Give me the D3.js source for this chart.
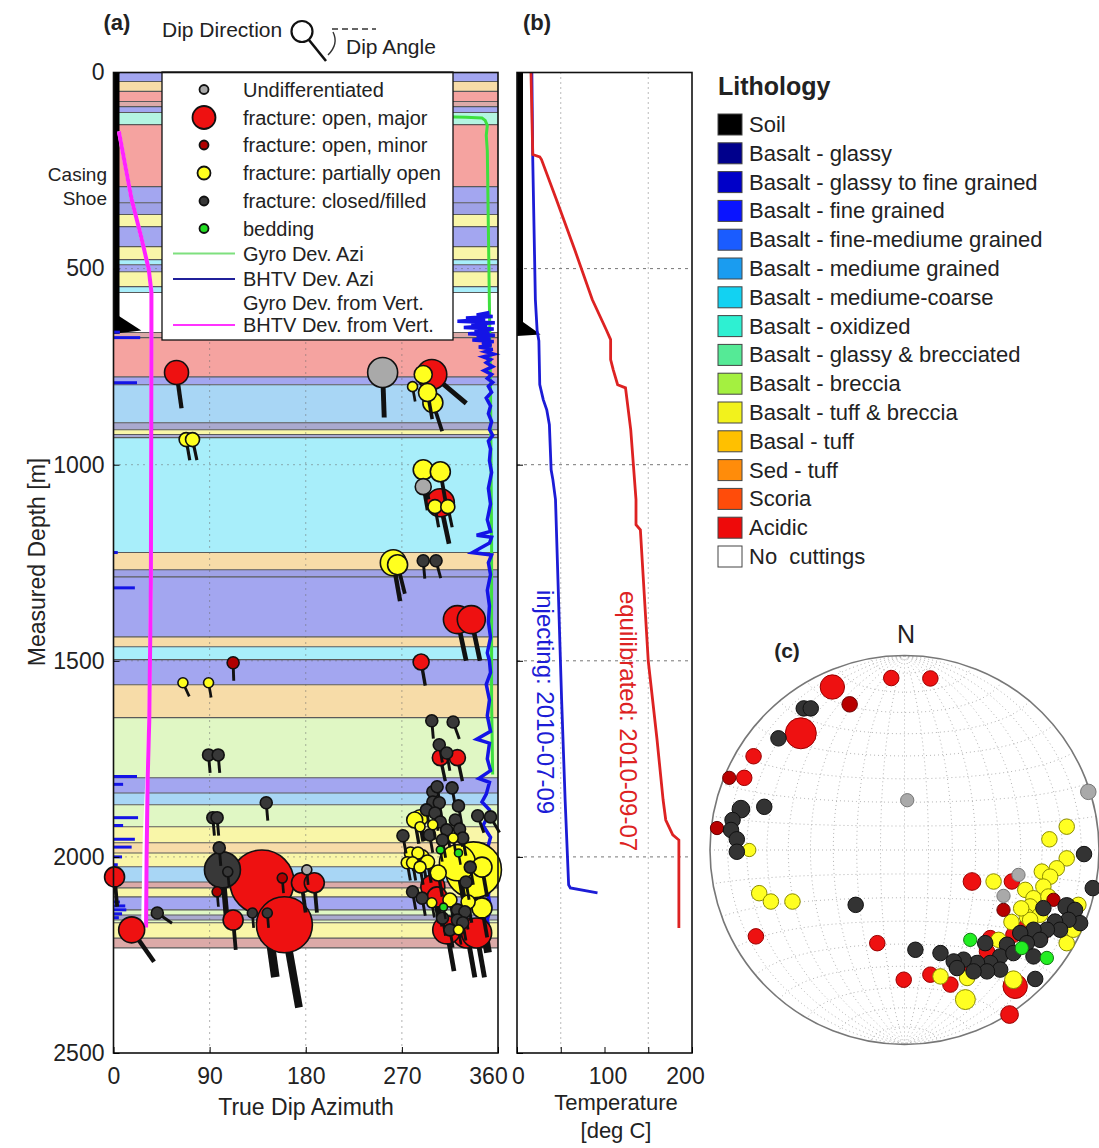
<!DOCTYPE html>
<html>
<head>
<meta charset="utf-8">
<script src="https://cdn.jsdelivr.net/npm/d3@7"></script>
<style>
  body { margin: 0; background: #fff; }
  text { font-family: "Liberation Sans", Arial, sans-serif; fill: #222; }
</style>
</head>
<body>
<div id="chart"></div>
<script>
// ---------------- data ----------------
var lithNames = ["Soil", "Basalt - glassy", "Basalt - glassy to fine grained", "Basalt - fine grained",
  "Basalt - fine-mediume grained", "Basalt - mediume grained", "Basalt - mediume-coarse", "Basalt - oxidized",
  "Basalt - glassy & brecciated", "Basalt - breccia", "Basalt - tuff & breccia", "Basal - tuff",
  "Sed - tuff", "Scoria", "Acidic", "No  cuttings"];
var lithColors = ["#000000", "#00008c", "#0000c8", "#0a14ff", "#1a5cff", "#1a9cf0", "#12d2f2", "#2ef0d2",
  "#55ea96", "#a4f040", "#f2f21c", "#ffc000", "#ff8c0a", "#ff4c0a", "#ee0a0a", "#ffffff"];
var lithPale = ["#000000", "#a9a9cf", "#9fa2e6", "#a3a6f0", "#a7bdf5", "#a8d6f5", "#a8eefa", "#b4f5e2",
  "#c0f2d0", "#e0f7c4", "#f9f6a8", "#f7dca8", "#f8cfa8", "#dcaaa8", "#f5a3a0", "#ffffff"];

// lithology intervals (depth in m)
var bandTops = [0, 23, 48, 74, 87, 102, 133, 291, 332, 362, 393, 444, 477, 490, 508, 546, 561, 663, 676, 776,
  796, 893, 911, 923, 931, 1224, 1268, 1286, 1439, 1464, 1497, 1561, 1645, 1798, 1837, 1867, 1923, 1964, 1990, 2025,
  2064, 2079, 2102, 2135, 2148, 2161, 2168, 2207];
var bandBases = [23, 48, 74, 87, 102, 133, 291, 332, 362, 393, 444, 477, 490, 508, 546, 561, 663, 676, 776, 796,
  893, 911, 923, 931, 1224, 1268, 1286, 1439, 1464, 1497, 1561, 1645, 1798, 1837, 1867, 1923, 1964, 1990, 2025, 2064,
  2079, 2102, 2135, 2148, 2161, 2168, 2207, 2232];
var bandLith = [3, 11, 14, 13, 3, 7, 14, 3, 2, 10, 3, 10, 6, 3, 10, 6, 15, 13, 14, 3,
  5, 1, 10, 1, 6, 11, 2, 3, 11, 6, 3, 11, 9, 3, 5, 9, 10, 11, 10, 5,
  13, 10, 3, 9, 1, 9, 10, 13];

var depthTicks = [0, 500, 1000, 1500, 2000, 2500];
var aziTicks = [0, 90, 180, 270, 360];
var tempTicks = [0, 50, 100, 150, 200];
var tempLabels = {0: "0", 100: "100", 200: "200"};

// fractures: [depth m, true dip azimuth deg, dip angle deg, aperture]
var fracOpenMajor = [[765, 59, 82, 12], [770, 298, 40, 15], [1097, 306, 78, 14], [1395, 322, 78, 14],
  [1395, 335, 78, 14], [1503, 288, 80, 8], [1747, 306, 78, 8], [1747, 322, 78, 8], [2076, 299, 80, 12],
  [2102, 303, 80, 10], [2194, 331, 80, 15], [2186, 312, 80, 14], [2194, 340, 80, 15], [2064, 139, 82, 32],
  [2173, 160, 80, 28], [2066, 176, 82, 10], [2066, 188, 85, 10], [2161, 112, 85, 10], [2051, 1, 85, 10],
  [2186, 17, 55, 13]];
var fracOpenMinor = [[1505, 112, 88, 6], [2054, 158, 85, 5], [2089, 97, 85, 5]];
var fracUndiff = [[765, 252, 88, 15], [1056, 290, 80, 8], [2033, 181, 85, 5]];
var fracPartial = [[770, 290, 80, 9], [801, 280, 80, 5], [816, 294, 80, 9], [842, 299, 72, 10],
  [936, 68, 80, 7], [936, 74, 78, 7], [1013, 290, 80, 10], [1018, 306, 80, 10], [1107, 301, 80, 7],
  [1107, 313, 78, 7], [1250, 262, 80, 13], [1255, 266, 76, 10], [1556, 65, 65, 5], [1556, 89, 80, 5],
  [1900, 287, 80, 8], [1906, 282, 80, 8], [1923, 287, 80, 5], [1918, 299, 80, 5], [1952, 318, 80, 5],
  [1990, 278, 80, 6], [1990, 285, 80, 6], [2015, 275, 80, 6], [2015, 280, 80, 6], [2000, 289, 80, 7],
  [2013, 294, 80, 7], [2026, 287, 80, 6], [2033, 337, 80, 28], [2015, 322, 80, 18], [2041, 304, 80, 8],
  [2026, 345, 80, 10], [2117, 298, 80, 5], [2130, 345, 80, 10], [2110, 315, 80, 7], [2115, 332, 80, 7],
  [2186, 323, 80, 5]];
var fracClosed = [[1245, 290, 85, 6], [1245, 302, 75, 6], [1653, 298, 85, 6], [1656, 318, 70, 6],
  [1740, 89, 85, 6], [1740, 98, 85, 6], [1714, 305, 80, 6], [1735, 312, 80, 6], [1862, 143, 85, 6],
  [1900, 93, 85, 6], [1900, 97, 85, 6], [1834, 299, 80, 6], [1821, 303, 80, 6], [1824, 317, 80, 6],
  [1860, 299, 80, 6], [1862, 305, 80, 6], [1870, 323, 80, 6], [1880, 293, 80, 6], [1888, 301, 80, 6],
  [1895, 341, 70, 6], [1898, 353, 60, 6], [1911, 306, 80, 6], [1906, 320, 80, 6], [1931, 312, 80, 6],
  [1929, 324, 80, 6], [1946, 271, 80, 6], [1944, 296, 80, 6], [1952, 327, 80, 6], [1957, 308, 80, 6],
  [2026, 334, 80, 6], [2064, 330, 80, 6], [2089, 280, 80, 6], [2105, 289, 80, 6], [2135, 322, 80, 6],
  [2140, 329, 80, 6], [2156, 308, 80, 6], [2186, 315, 80, 6], [2161, 322, 80, 6], [2168, 327, 80, 6],
  [1977, 99, 85, 6], [2033, 102, 85, 18], [2038, 107, 85, 5], [2143, 130, 85, 5], [2143, 144, 85, 5],
  [2143, 41, 35, 6]];
var fracBedding = [[1982, 306, 80, 4], [1990, 323, 80, 4], [2128, 309, 80, 4]];

// borehole deviation logs: [depth m, value deg]
var gyroAzi = [[112, 300], [114, 330], [116, 345], [122, 348], [135, 350], [160, 349], [200, 350], [400, 351],
  [600, 352], [800, 353], [1200, 354], [1600, 354], [1790, 355]];
var bhtvAzi = [[612, 352], [618, 340], [622, 355], [626, 330], [630, 348], [634, 322], [638, 357], [642, 335],
  [646, 350], [650, 328], [654, 356], [658, 338], [662, 352], [666, 332], [670, 357], [674, 340], [678, 353],
  [682, 336], [686, 356], [690, 345], [695, 354], [700, 342], [706, 355], [712, 348], [718, 356], [725, 346],
  [732, 353], [740, 349], [750, 355], [760, 347], [770, 354], [780, 350], [790, 355], [800, 351], [815, 354],
  [830, 349], [850, 353], [870, 351], [890, 354], [910, 352], [925, 355], [940, 351], [960, 353], [990, 352],
  [1020, 354], [1060, 351], [1100, 353], [1140, 350], [1170, 353], [1180, 340], [1185, 354], [1200, 352],
  [1224, 336], [1230, 354], [1250, 351], [1280, 353], [1320, 350], [1360, 352], [1400, 351], [1440, 353],
  [1480, 350], [1500, 352], [1530, 353], [1560, 349], [1600, 352], [1640, 350], [1680, 353], [1700, 340],
  [1710, 352], [1750, 350], [1780, 353], [1800, 342], [1810, 352], [1840, 349], [1860, 345], [1880, 352],
  [1900, 350], [1920, 346], [1950, 353], [1980, 350], [2010, 352], [2040, 349], [2070, 352], [2100, 351],
  [2130, 353], [2160, 350], [2190, 352], [2210, 351]];
var bhtvAziWrap = [[662, 6], [676, 25], [791, 22], [1224, 4], [1314, 20], [1795, 22], [1815, 9], [1900, 23],
  [1920, 9], [1955, 20], [1975, 17], [2000, 8], [2020, 4], [2115, 6], [2125, 11], [2135, 12], [2145, 8], [2155, 5]];
var bhtvVert = [[150, 5], [324, 17], [420, 26], [502, 33], [560, 35.5], [700, 35.5], [1300, 35], [1650, 33.5],
  [1800, 32], [2000, 31], [2180, 30.5]];
var gyroVert = [[150, 5], [324, 17], [420, 26], [502, 33], [560, 35.5], [700, 35.5], [1300, 35], [1650, 33.5],
  [1800, 31.5], [1950, 29], [2180, 27.5]];

// casing / soil marker: [depth m, value]
var soilWedgeA = [[612, 0], [666, 0], [658, 26]];
var soilWedgeB = [[625, 0], [672, 0], [668, 27]];
var soilBase = 666;

// temperature logs: [depth m, deg C]
var tempInjecting = [[0, 17], [222, 18], [579, 21], [658, 23], [684, 25], [796, 26], [834, 30], [860, 34],
  [898, 37], [1013, 39], [1038, 41], [1089, 44], [1600, 51], [1855, 55], [2071, 59], [2079, 61], [2092, 92]];
var tempEquilibrated = [[0, 16], [209, 18], [215, 26], [222, 28], [324, 45], [452, 66], [579, 86], [656, 102],
  [681, 107], [732, 107], [758, 110], [796, 115], [804, 124], [911, 130], [1089, 136], [1153, 136], [1166, 141],
  [1500, 150], [1700, 160], [1855, 167], [1906, 170], [1944, 178], [1957, 185], [2181, 185]];

// stereonet poles (equal-area, lower hemisphere): [east, north, aperture]
var poleOpenMajor = [[-0.068, 0.884, 7], [0.133, 0.882, 7], [-0.371, 0.838, 11], [-0.533, 0.600, 14],
  [-0.776, 0.482, 7], [-0.824, 0.371, 7], [0.347, -0.162, 8], [0.552, -0.162, 7], [0.441, -0.453, 7],
  [0.560, -0.436, 7], [0.424, -0.522, 7], [-0.140, -0.479, 7], [-0.764, -0.444, 7], [-0.004, -0.667, 7],
  [0.133, -0.641, 7], [0.236, -0.692, 7], [0.569, -0.701, 11], [0.540, -0.846, 8], [0.30, -0.60, 7],
  [0.62, -0.40, 7], [0.70, -0.44, 7]];
var poleOpenMinor = [[-0.282, 0.749, 7], [-0.901, 0.371, 6], [-0.964, 0.113, 6], [0.766, -0.256, 6],
  [0.509, -0.308, 6]];
var poleUndiff = [[0.014, 0.256, 6], [0.945, 0.299, 7], [0.586, -0.128, 6], [0.509, -0.236, 6]];
var polePartial = [[-0.798, 0.0, 6], [0.834, 0.120, 7], [0.745, 0.055, 7], [0.834, -0.043, 7], [0.783, -0.094, 7],
  [0.706, -0.111, 7], [0.749, -0.137, 7], [0.458, -0.162, 7], [0.621, -0.205, 7], [0.714, -0.188, 7],
  [0.663, -0.248, 7], [0.740, -0.239, 7], [0.646, -0.290, 7], [0.629, -0.342, 7], [0.697, -0.333, 7],
  [0.894, -0.282, 7], [0.834, -0.479, 7], [0.646, -0.359, 7], [0.484, -0.462, 7], [-0.747, -0.222, 7],
  [-0.687, -0.265, 7], [-0.576, -0.265, 7], [0.185, -0.650, 7], [0.322, -0.658, 7], [0.313, -0.769, 9],
  [0.560, -0.667, 8], [0.868, -0.410, 7], [0.60, -0.30, 7], [0.55, -0.37, 7]];
var poleClosed = [[-0.518, 0.728, 7], [-0.482, 0.728, 7], [-0.648, 0.574, 7], [-0.841, 0.210, 8],
  [-0.721, 0.222, 7], [-0.884, 0.154, 7], [-0.892, 0.103, 7], [-0.862, 0.055, 7], [-0.862, -0.009, 7],
  [0.923, -0.021, 7], [0.968, -0.196, 7], [0.834, -0.290, 8], [0.877, -0.308, 7], [0.903, -0.376, 7],
  [0.843, -0.359, 7], [0.774, -0.368, 7], [0.800, -0.410, 7], [0.732, -0.410, 7], [0.663, -0.410, 7],
  [0.595, -0.427, 7], [0.697, -0.462, 7], [0.629, -0.479, 7], [0.415, -0.479, 7], [0.527, -0.487, 7],
  [0.492, -0.547, 7], [0.560, -0.530, 7], [0.441, -0.581, 7], [0.373, -0.581, 7], [0.304, -0.564, 7],
  [0.253, -0.573, 7], [0.185, -0.530, 7], [0.056, -0.513, 7], [-0.251, -0.282, 7], [0.672, -0.663, 7],
  [0.492, -0.615, 7], [0.424, -0.624, 7], [0.355, -0.624, 7], [0.270, -0.607, 7], [0.663, -0.547, 7],
  [0.714, -0.299, 7]];
var poleBedding = [[0.338, -0.462, 6], [0.603, -0.504, 6], [0.732, -0.555, 6]];

// ---------------- styles per fracture class ----------------
var fracStyles = {
  undiff:   {fill: "#a9a9a9", pole: "#a9a9a9", poleStroke: "#777"},
  major:    {fill: "#ee1111", pole: "#ee1111", poleStroke: "#990000"},
  minor:    {fill: "#b00000", pole: "#b80000", poleStroke: "#660000"},
  partial:  {fill: "#ffff1e", pole: "#ffff22", poleStroke: "#8a8a00"},
  closed:   {fill: "#383838", pole: "#333333", poleStroke: "#111"},
  bedding:  {fill: "#22dd22", pole: "#22ee22", poleStroke: "#117711"}
};

// ---------------- svg & scales ----------------
var svg = d3.select("#chart").append("svg")
    .attr("width", 1099)
    .attr("height", 1148);

var yD = d3.scaleLinear().domain([0, 2500]).range([72.5, 1053]);
var xA = d3.scaleLinear().domain([0, 360]).range([113.5, 498]);
var xT = d3.scaleLinear().domain([0, 200]).range([517, 692]);
var rScale = d3.scaleLinear().domain([0, 32]).range([0, 32]);
var poleScale = d3.scaleLinear().domain([0, 14]).range([0, 15.5]);

// ================= panel (a) =================
var pa = svg.append("g");

// lithology bands
var bands = d3.range(bandTops.length);
pa.selectAll("rect.band")
  .data(bands)
  .enter().append("rect")
    .attr("class", "band")
    .attr("x", xA(0))
    .attr("width", xA(360) - xA(0))
    .attr("y", function(i) { return yD(bandTops[i]); })
    .attr("height", function(i) { return yD(bandBases[i]) - yD(bandTops[i]); })
    .attr("fill", function(i) { return lithPale[bandLith[i]]; });

pa.selectAll("line.bandEdge")
  .data(bandBases)
  .enter().append("line")
    .attr("x1", xA(0)).attr("x2", xA(360))
    .attr("y1", function(d) { return yD(d); })
    .attr("y2", function(d) { return yD(d); })
    .attr("stroke", "#5a5a5a")
    .attr("stroke-width", 1.1);

// gridlines
pa.selectAll("line.vgrid")
  .data([90, 180, 270])
  .enter().append("line")
    .attr("x1", function(d) { return xA(d); })
    .attr("x2", function(d) { return xA(d); })
    .attr("y1", yD(0)).attr("y2", yD(2500))
    .attr("stroke", "#666")
    .attr("stroke-width", 1)
    .attr("stroke-dasharray", "1,5");
pa.selectAll("line.hgrid")
  .data([500, 1000, 1500, 2000])
  .enter().append("line")
    .attr("x1", xA(0)).attr("x2", xA(360))
    .attr("y1", function(d) { return yD(d); })
    .attr("y2", function(d) { return yD(d); })
    .attr("stroke", "#666")
    .attr("stroke-width", 1)
    .attr("stroke-dasharray", "1,5");

// soil / casing marker
pa.append("rect")
    .attr("x", xA(0)).attr("y", yD(0))
    .attr("width", 6).attr("height", yD(soilBase) - yD(0))
    .attr("fill", "#000");
pa.append("path")
    .datum(soilWedgeA)
    .attr("d", d3.line().x(function(d) { return xA(d[1]); }).y(function(d) { return yD(d[0]); }))
    .attr("fill", "#000");

// deviation logs
var devLine = d3.line()
    .x(function(d) { return xA(d[1]); })
    .y(function(d) { return yD(d[0]); });

pa.append("path").datum(gyroVert)
    .attr("d", devLine).attr("fill", "none")
    .attr("stroke", "#ffffff").attr("stroke-width", 3.5);
pa.append("path").datum(bhtvVert)
    .attr("d", devLine).attr("fill", "none")
    .attr("stroke", "#ff22ff").attr("stroke-width", 4);
pa.append("path").datum(gyroAzi)
    .attr("d", devLine).attr("fill", "none")
    .attr("stroke", "#3ee03e").attr("stroke-width", 3);
pa.append("path").datum(bhtvAzi)
    .attr("d", devLine).attr("fill", "none")
    .attr("stroke", "#1414e6").attr("stroke-width", 3.5);
pa.selectAll("line.wrap")
  .data(bhtvAziWrap)
  .enter().append("line")
    .attr("x1", xA(0))
    .attr("x2", function(d) { return xA(d[1]); })
    .attr("y1", function(d) { return yD(d[0]); })
    .attr("y2", function(d) { return yD(d[0]); })
    .attr("stroke", "#1414e6")
    .attr("stroke-width", 3);

// legend box (a)
var lg = pa.append("g");
lg.append("rect")
    .attr("x", 162).attr("y", 72)
    .attr("width", 291).attr("height", 268)
    .attr("fill", "#fff")
    .attr("stroke", "#111").attr("stroke-width", 1.3);

var legendMarkers = [
  {label: "Undifferentiated", cls: "undiff", r: 4.5},
  {label: "fracture: open, major", cls: "major", r: 11.5},
  {label: "fracture: open, minor", cls: "minor", r: 4.5},
  {label: "fracture: partially open", cls: "partial", r: 6.5},
  {label: "fracture: closed/filled", cls: "closed", r: 4.5},
  {label: "bedding", cls: "bedding", r: 4.5}
];
var legendLines = [
  {label: "Gyro Dev. Azi", color: "#7ee07e"},
  {label: "BHTV Dev. Azi", color: "#20209a"},
  {label: "Gyro Dev. from Vert.", color: "#ffffff"},
  {label: "BHTV Dev. from Vert.", color: "#ff33ff"}
];
var rowY = [89.5, 117.5, 145, 173, 201, 228.5, 253.5, 279, 303, 325];

legendMarkers.forEach(function(m, i) {
  lg.append("circle")
      .attr("cx", 204).attr("cy", rowY[i]).attr("r", m.r)
      .attr("fill", fracStyles[m.cls].fill)
      .attr("stroke", "#111").attr("stroke-width", 1.8);
  lg.append("text")
      .attr("x", 243).attr("y", rowY[i] + 7)
      .style("font-size", "20px")
      .text(m.label);
});
legendLines.forEach(function(m, i) {
  var y = rowY[6 + i];
  lg.append("line")
      .attr("x1", 173).attr("x2", 235)
      .attr("y1", y).attr("y2", y)
      .attr("stroke", m.color).attr("stroke-width", 2);
  lg.append("text")
      .attr("x", 243).attr("y", y + 7)
      .style("font-size", "20px")
      .text(m.label);
});

// fractures (tadpoles): biggest first so small ones stay on top
var fracAll = [];
[["major", fracOpenMajor], ["minor", fracOpenMinor], ["undiff", fracUndiff], ["partial", fracPartial],
 ["closed", fracClosed], ["bedding", fracBedding]].forEach(function(s) {
  s[1].forEach(function(d) { fracAll.push({cls: s[0], depth: d[0], azi: d[1], dip: d[2], ap: d[3]}); });
});
fracAll.sort(function(a, b) { return b.ap - a.ap; });

var tad = pa.append("g").selectAll("g")
  .data(fracAll)
  .enter().append("g");
tad.append("line")
    .attr("x1", function(d) { return xA(d.azi); })
    .attr("y1", function(d) { return yD(d.depth); })
    .attr("x2", function(d) { return xA(d.azi) + 3 * rScale(d.ap) * Math.cos(d.dip * Math.PI / 180); })
    .attr("y2", function(d) { return yD(d.depth) + 3 * rScale(d.ap) * Math.sin(d.dip * Math.PI / 180); })
    .attr("stroke", "#111")
    .attr("stroke-width", function(d) { return 1.6 + 0.22 * rScale(d.ap); });
tad.append("circle")
    .attr("cx", function(d) { return xA(d.azi); })
    .attr("cy", function(d) { return yD(d.depth); })
    .attr("r", function(d) { return rScale(d.ap); })
    .attr("fill", function(d) { return fracStyles[d.cls].fill; })
    .attr("stroke", "#111")
    .attr("stroke-width", 1.6);

// frame + axes (a)
pa.append("rect")
    .attr("x", xA(0)).attr("y", yD(0))
    .attr("width", xA(360) - xA(0)).attr("height", yD(2500) - yD(0))
    .attr("fill", "none").attr("stroke", "#111").attr("stroke-width", 1.6);

var yAxisA = pa.append("g")
    .attr("transform", "translate(" + xA(0) + ",0)")
    .call(d3.axisLeft(yD).tickValues(depthTicks).tickFormat(d3.format("d"))
      .tickSizeInner(-6).tickSizeOuter(0).tickPadding(9));
yAxisA.select(".domain").remove();
yAxisA.selectAll("text").style("font-size", "23px").style("font-family", "Liberation Sans, Arial");

var xAxisA = pa.append("g")
    .attr("transform", "translate(0," + yD(2500) + ")")
    .call(d3.axisBottom(xA).tickValues(aziTicks).tickSizeInner(-6).tickSizeOuter(0).tickPadding(15));
xAxisA.select(".domain").remove();
xAxisA.selectAll("text").style("font-size", "23px").style("font-family", "Liberation Sans, Arial")
    .attr("dx", function(d) { return d === 360 ? -10 : 0; });

pa.append("text")
    .attr("transform", "translate(45,562) rotate(-90)")
    .attr("text-anchor", "middle")
    .style("font-size", "23px")
    .text("Measured Depth [m]");
pa.append("text")
    .attr("x", 306).attr("y", 1115)
    .attr("text-anchor", "middle")
    .style("font-size", "23px")
    .text("True Dip Azimuth");
pa.append("text").attr("x", 107).attr("y", 181).attr("text-anchor", "end")
    .style("font-size", "19px").text("Casing");
pa.append("text").attr("x", 107).attr("y", 205).attr("text-anchor", "end")
    .style("font-size", "19px").text("Shoe");

// header of (a)
svg.append("text").attr("x", 117).attr("y", 30).attr("text-anchor", "middle")
    .style("font-size", "22px").style("font-weight", "bold").text("(a)");
svg.append("text").attr("x", 162).attr("y", 37).style("font-size", "21px").text("Dip Direction");
svg.append("circle").attr("cx", 302).attr("cy", 31.5).attr("r", 10.5)
    .attr("fill", "none").attr("stroke", "#111").attr("stroke-width", 2.2);
svg.append("line").attr("x1", 309).attr("y1", 40).attr("x2", 326).attr("y2", 61)
    .attr("stroke", "#111").attr("stroke-width", 2.6);
svg.append("line").attr("x1", 332).attr("y1", 29).attr("x2", 376).attr("y2", 29)
    .attr("stroke", "#333").attr("stroke-width", 1.4).attr("stroke-dasharray", "6,4");
svg.append("path").attr("d", "M333,32 Q339,44 328,55")
    .attr("fill", "none").attr("stroke", "#333").attr("stroke-width", 1.4);
svg.append("text").attr("x", 346).attr("y", 54).style("font-size", "21px").text("Dip Angle");

// ================= panel (b) =================
var pb = svg.append("g");

pb.selectAll("line.vgrid")
  .data([50, 150])
  .enter().append("line")
    .attr("x1", function(d) { return xT(d); })
    .attr("x2", function(d) { return xT(d); })
    .attr("y1", yD(0)).attr("y2", yD(2500))
    .attr("stroke", "#777").attr("stroke-dasharray", "1,4");
pb.selectAll("line.hgrid")
  .data([500, 1000, 1500, 2000])
  .enter().append("line")
    .attr("x1", xT(0)).attr("x2", xT(200))
    .attr("y1", function(d) { return yD(d); })
    .attr("y2", function(d) { return yD(d); })
    .attr("stroke", "#777").attr("stroke-dasharray", "3,4");

pb.append("rect")
    .attr("x", xT(0)).attr("y", yD(0))
    .attr("width", 6).attr("height", yD(soilBase) - yD(0))
    .attr("fill", "#000");
pb.append("path")
    .datum(soilWedgeB)
    .attr("d", d3.line().x(function(d) { return xT(d[1]); }).y(function(d) { return yD(d[0]); }))
    .attr("fill", "#000");

var tLine = d3.line()
    .x(function(d) { return xT(d[1]); })
    .y(function(d) { return yD(d[0]); });
pb.append("path").datum(tempInjecting)
    .attr("d", tLine).attr("fill", "none")
    .attr("stroke", "#1c1cd6").attr("stroke-width", 2.8);
pb.append("path").datum(tempEquilibrated)
    .attr("d", tLine).attr("fill", "none")
    .attr("stroke", "#dd2222").attr("stroke-width", 2.8);

pb.append("text")
    .attr("transform", "translate(543,702) rotate(90)")
    .attr("text-anchor", "middle").attr("dominant-baseline", "middle")
    .style("font-size", "24px").style("fill", "#1c1cd6")
    .text("injecting: 2010-07-09");
pb.append("text")
    .attr("transform", "translate(626,721) rotate(90)")
    .attr("text-anchor", "middle").attr("dominant-baseline", "middle")
    .style("font-size", "24px").style("fill", "#dd2222")
    .text("equilibrated: 2010-09-07");

pb.append("rect")
    .attr("x", xT(0)).attr("y", yD(0))
    .attr("width", xT(200) - xT(0)).attr("height", yD(2500) - yD(0))
    .attr("fill", "none").attr("stroke", "#111").attr("stroke-width", 1.6);

var yAxisB = pb.append("g")
    .attr("transform", "translate(" + xT(0) + ",0)")
    .call(d3.axisLeft(yD).tickValues(depthTicks).tickSizeInner(-6).tickSizeOuter(0).tickFormat(""));
yAxisB.select(".domain").remove();

var xAxisB = pb.append("g")
    .attr("transform", "translate(0," + yD(2500) + ")")
    .call(d3.axisBottom(xT).tickValues(tempTicks).tickSizeInner(-6).tickSizeOuter(0).tickPadding(15)
      .tickFormat(function(d) { return tempLabels[d] || ""; }));
xAxisB.select(".domain").remove();
xAxisB.selectAll("text").style("font-size", "23px").style("font-family", "Liberation Sans, Arial")
    .attr("dx", function(d) { return d === 200 ? -7 : (d === 100 ? 3 : 1); });

pb.append("text").attr("x", 616).attr("y", 1110).attr("text-anchor", "middle")
    .style("font-size", "22px").text("Temperature");
pb.append("text").attr("x", 616).attr("y", 1138).attr("text-anchor", "middle")
    .style("font-size", "22px").text("[deg C]");
svg.append("text").attr("x", 537).attr("y", 30).attr("text-anchor", "middle")
    .style("font-size", "22px").style("font-weight", "bold").text("(b)");

// ================= lithology legend =================
var ll = svg.append("g");
ll.append("text").attr("x", 718).attr("y", 95)
    .style("font-size", "25px").style("font-weight", "bold").text("Lithology");
ll.selectAll("rect.sw")
  .data(lithNames)
  .enter().append("rect")
    .attr("x", 718)
    .attr("y", function(d, i) { return 114 + i * 28.8; })
    .attr("width", 24).attr("height", 21)
    .attr("fill", function(d, i) { return lithColors[i]; })
    .attr("stroke", "#444").attr("stroke-width", 1);
ll.selectAll("text.lab")
  .data(lithNames)
  .enter().append("text")
    .attr("x", 749)
    .attr("y", function(d, i) { return 132 + i * 28.8; })
    .style("font-size", "22px")
    .style("white-space", "pre")
    .text(function(d) { return d; });

// ================= panel (c) stereonet =================
var cx = 904.5, cy = 850, R = 194.5;
var sx = d3.scaleLinear().domain([-1, 1]).range([cx - R, cx + R]);
var sy = d3.scaleLinear().domain([-1, 1]).range([cy + R, cy - R]);

function proj(v) {
  var k = 1 / Math.sqrt(1 + v[2]);
  return [v[0] * k, v[1] * k];
}
var netLines = [];
d3.range(10, 180, 10).forEach(function(a) {
  var al = a * Math.PI / 180;
  netLines.push(d3.range(0, 181, 3).map(function(p) {
    var ph = p * Math.PI / 180;
    return proj([Math.sin(al) * Math.cos(ph), Math.cos(al), Math.sin(al) * Math.sin(ph)]);
  }));
  netLines.push(d3.range(0, 181, 3).map(function(t) {
    var tl = t * Math.PI / 180;
    return proj([Math.sin(tl) * Math.cos(al), Math.cos(tl), Math.sin(tl) * Math.sin(al)]);
  }));
});

var pc = svg.append("g");
pc.append("circle").attr("cx", cx).attr("cy", cy).attr("r", R).attr("fill", "#fff");
pc.selectAll("path.net")
  .data(netLines)
  .enter().append("path")
    .attr("d", d3.line().x(function(p) { return sx(p[0]); }).y(function(p) { return sy(p[1]); }))
    .attr("fill", "none")
    .attr("stroke", "#aaa")
    .attr("stroke-width", 0.9)
    .attr("stroke-dasharray", "1,3");
pc.append("circle").attr("cx", cx).attr("cy", cy).attr("r", R)
    .attr("fill", "none").attr("stroke", "#777").attr("stroke-width", 1.6);

[["major", poleOpenMajor], ["partial", polePartial], ["minor", poleOpenMinor], ["undiff", poleUndiff],
 ["closed", poleClosed], ["bedding", poleBedding]].forEach(function(s) {
  pc.append("g").selectAll("circle")
    .data(s[1])
    .enter().append("circle")
      .attr("cx", function(d) { return sx(d[0]); })
      .attr("cy", function(d) { return sy(d[1]); })
      .attr("r", function(d) { return poleScale(d[2]); })
      .attr("fill", fracStyles[s[0]].pole)
      .attr("stroke", fracStyles[s[0]].poleStroke)
      .attr("stroke-width", 1);
});

svg.append("text").attr("x", 906).attr("y", 643).attr("text-anchor", "middle")
    .style("font-size", "25px").text("N");
svg.append("text").attr("x", 787).attr("y", 658).attr("text-anchor", "middle")
    .style("font-size", "21px").style("font-weight", "bold").text("(c)");
</script>
</body>
</html>
